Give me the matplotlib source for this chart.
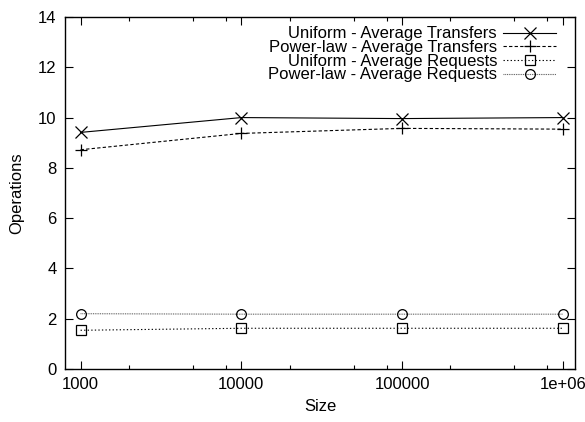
import matplotlib
matplotlib.use("Agg")
import matplotlib.pyplot as plt
from matplotlib.ticker import FixedLocator, FixedFormatter, NullFormatter

plt.rcParams['font.family'] = ['Liberation Sans', 'DejaVu Sans']

sizes = [1000, 10000, 100000, 1000000]
uniform_transfers = [9.41, 10.0, 9.96, 10.0]
powerlaw_transfers = [8.72, 9.37, 9.57, 9.54]
uniform_requests = [1.54, 1.62, 1.62, 1.62]
powerlaw_requests = [2.2, 2.18, 2.18, 2.18]

xtick_vals = [1000, 10000, 100000, 1000000]
xtick_labels = ["1000", "10000", "100000", "1e+06"]
ytick_vals = [0, 2, 4, 6, 8, 10, 12, 14]

fig = plt.figure(figsize=(5.85, 4.22), dpi=100)
ax = fig.add_axes([65/585, 1-369/422, 510/585, 352/422])

lw = 0.8
ax.plot(sizes, uniform_transfers, color='black', lw=lw, ls='-', marker='x',
        ms=8, mew=0.9, label='Uniform - Average Transfers')
ax.plot(sizes, powerlaw_transfers, color='black', lw=lw, ls=(0, (3, 2)), marker='+',
        ms=9, mew=0.9, label='Power-law - Average Transfers')
ax.plot(sizes, uniform_requests, color='black', lw=lw, ls=(0, (1.2, 2)), marker='s',
        ms=7, mew=0.9, mfc='none', label='Uniform - Average Requests')
ax.plot(sizes, powerlaw_requests, color='#555555', lw=lw, ls=(0, (0.8, 0.8)), marker='o',
        ms=7, mew=0.9, mfc='none', mec='black', label='Power-law - Average Requests')

ax.set_xscale('log')
ax.set_xlim(800, 1.19e6)
ax.set_ylim(0, 14)

ax.xaxis.set_major_locator(FixedLocator(xtick_vals))
ax.xaxis.set_major_formatter(FixedFormatter(xtick_labels))
minor = []
for d in [1000, 10000, 100000]:
    minor += [2*d, 5*d, 8*d]
ax.xaxis.set_minor_locator(FixedLocator(minor))
ax.xaxis.set_minor_formatter(NullFormatter())
ax.yaxis.set_major_locator(FixedLocator(ytick_vals))
ax.yaxis.set_minor_locator(FixedLocator([]))

ax.tick_params(which='both', direction='in', top=True, right=True, labelsize=12, width=0.8)
ax.tick_params(which='major', length=6, pad=6)
ax.tick_params(which='minor', length=3)
for s in ax.spines.values():
    s.set_linewidth(1.0)

ax.set_xlabel('Size', fontsize=12, labelpad=5)
ax.set_ylabel('Operations', fontsize=12, labelpad=10)

leg = ax.legend(loc='upper right', bbox_to_anchor=(1 - 8/510, 1 + 1.5/352),
                markerfirst=False, frameon=False, fontsize=12,
                labelspacing=-0.08, handlelength=3.2, handletextpad=0.35,
                borderaxespad=0.3, borderpad=0.35)

fig.savefig('out.png', dpi=100)
